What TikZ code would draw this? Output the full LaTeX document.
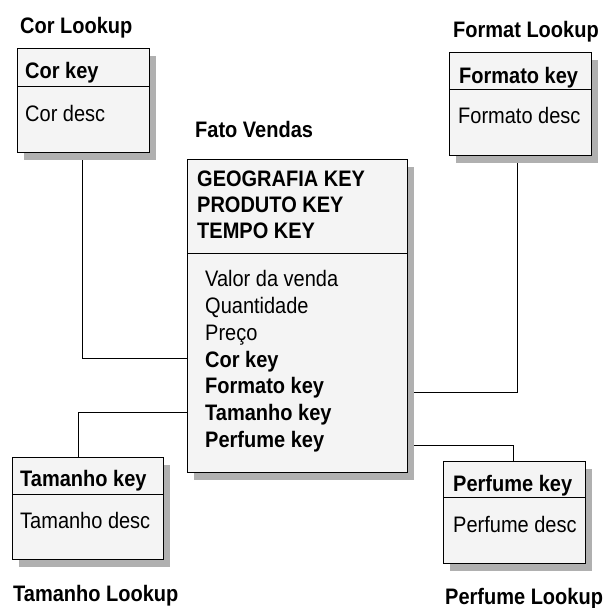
\documentclass[tikz,border=0pt]{standalone}
\usepackage{fontspec}
\usepackage{graphicx}
\setmainfont{Liberation Sans}
\usetikzlibrary{shadows,backgrounds}
\newcommand{\tallt}[1]{\scalebox{1}[1.12]{#1}}
\begin{document}
\begin{tikzpicture}[x=1pt,y=-1pt,
  tbl/.style={draw=black,line width=1.1pt,fill=gray!9,anchor=north west,inner sep=0pt,
    general shadow={fill=gray!62,shadow xshift=6pt,shadow yshift=-7pt}},
  sep/.style={draw=black,line width=1pt},
  conn/.style={draw=black,line width=1pt},
  txt/.style={anchor=base west,inner sep=0pt,font=\fontsize{20}{24}\selectfont},
  keyt/.style={anchor=base west,inner sep=0pt,font=\bfseries\fontsize{20}{24}\selectfont},
  ttl/.style={anchor=base west,inner sep=0pt,font=\bfseries\fontsize{20}{24}\selectfont}]
\useasboundingbox (0,0) rectangle (605,608);

% boxes
\node[tbl,minimum width=132pt,minimum height=104pt] (cor) at (17,48) {};
\node[tbl,minimum width=142pt,minimum height=103pt] (fmt) at (449,52) {};
\node[tbl,minimum width=220pt,minimum height=313pt] (fato) at (187,159) {};
\node[tbl,minimum width=151pt,minimum height=102pt] (tam) at (12,457) {};
\node[tbl,minimum width=142pt,minimum height=102pt] (perf) at (443,461) {};

% connector joints
\coordinate (cj) at (fato.west |- 0,358);
\coordinate (fj) at (fato.east |- 0,392);
\coordinate (tj) at (fato.west |- 0,412);
\coordinate (pj) at (fato.east |- 0,445);

% connectors (behind boxes)
\begin{scope}[on background layer]
\draw[conn] ([xshift=-1pt]cor.south) |- (cj);
\draw[conn] ([xshift=-3pt]fmt.south) |- (fj);
\draw[conn] (tj) -| (tam.north -| 78,0);
\draw[conn] (pj) -| (perf.north -| 513,0);
\end{scope}

% dividers
\draw[sep] (cor.west |- 0,86) -- (cor.east |- 0,86);
\draw[sep] (fmt.west |- 0,89) -- (fmt.east |- 0,89);
\draw[sep] (fato.west |- 0,253) -- (fato.east |- 0,253);
\draw[sep] (tam.west |- 0,494) -- (tam.east |- 0,494);
\draw[sep] (perf.west |- 0,497) -- (perf.east |- 0,497);

% titles
\node[ttl] (tcor) at (20,33) {\tallt{Cor Lookup}};
\node[ttl] (tfmt) at (453,37) {\tallt{Format Lookup}};
\node[ttl] (tfato) at (195,137) {\tallt{Fato Vendas}};
\node[ttl] (ttam) at (13,601) {\tallt{Tamanho Lookup}};
\node[ttl] (tperf) at (445,604) {\tallt{Perfume Lookup}};

% lookup contents
\node[keyt] (ck) at (25,78) {\tallt{Cor key}};
\node[txt] (cd) at (25,121) {\tallt{Cor desc}};
\node[keyt] (fk) at (459,83) {\tallt{Formato key}};
\node[txt] (fd) at (458,123) {\tallt{Formato desc}};
\node[keyt] (tk) at (20,486) {\tallt{Tamanho key}};
\node[txt] (td) at (20,528) {\tallt{Tamanho desc}};
\node[keyt] (pk) at (453,491) {\tallt{Perfume key}};
\node[txt] (pd) at (453,532) {\tallt{Perfume desc}};

% fact contents
\node[keyt] (g1) at (197,186) {\tallt{GEOGRAFIA KEY}};
\node[keyt] (g2) at (197,212) {\tallt{PRODUTO KEY}};
\node[keyt] (g3) at (197,238) {\tallt{TEMPO KEY}};
\node[txt] (m1) at (205,286) {\tallt{Valor da venda}};
\node[txt] (m2) at (205,313) {\tallt{Quantidade}};
\node[txt] (m3) at (205,340) {\tallt{Preço}};
\node[keyt] (m4) at (205,367) {\tallt{Cor key}};
\node[keyt] (m5) at (205,393) {\tallt{Formato key}};
\node[keyt] (m6) at (205,420) {\tallt{Tamanho key}};
\node[keyt] (m7) at (205,447) {\tallt{Perfume key}};
\end{tikzpicture}
\end{document}
